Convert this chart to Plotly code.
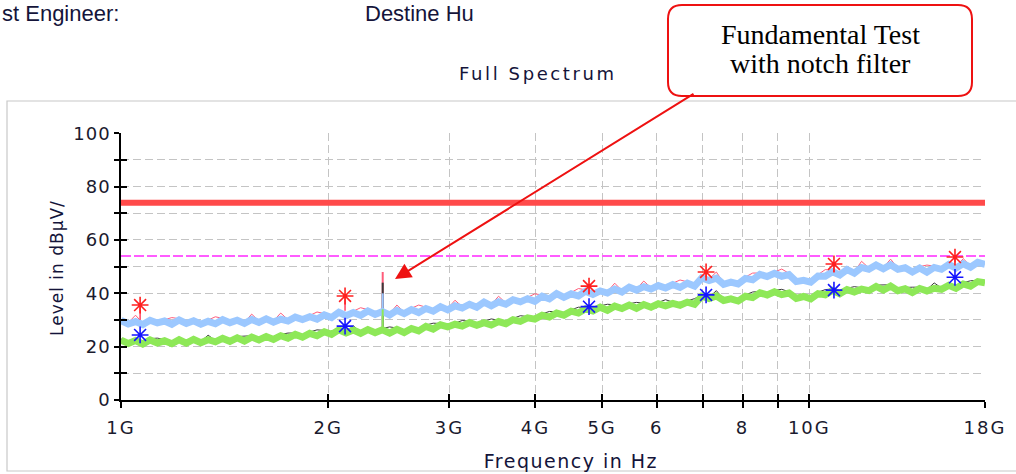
import numpy as np
import plotly.graph_objects as go

# ---------------- data ----------------
f_start, f_stop, n_pts = 1e9, 18e9, 120
freq = np.geomspace(f_start, f_stop, n_pts)

peak_band = [
    29.8, 28.5, 29.4, 28.3, 29.9, 28.9, 29.6, 28.4, 30.0, 28.7,
    29.7, 28.4, 29.5, 28.6, 30.1, 29.0, 29.9, 28.7, 30.2, 29.1,
    30.4, 29.2, 30.3, 29.6, 31.1, 30.2, 31.2, 30.3, 31.9, 30.9,
    32.9, 31.6, 32.8, 31.7, 33.4, 32.1, 33.2, 31.9, 33.6, 32.4,
    33.9, 32.8, 34.3, 33.3, 35.0, 33.8, 35.3, 34.5, 35.9, 34.8,
    36.7, 35.3, 36.8, 35.9, 37.6, 36.8, 38.0, 37.0, 38.9, 37.9,
    39.9, 38.5, 39.8, 39.0, 40.8, 39.6, 40.9, 40.1, 41.6, 40.5,
    42.3, 41.2, 42.5, 41.6, 42.9, 42.0, 43.3, 42.2, 43.8, 42.7,
    45.8, 44.8, 45.7, 43.4, 44.2, 43.5, 45.6, 45.1, 47.1, 46.3,
    47.5, 46.4, 47.0, 44.4, 44.9, 44.2, 46.5, 46.4, 48.1, 46.9,
    48.9, 47.6, 49.7, 49.0, 50.6, 49.2, 50.7, 49.0, 49.6, 48.0,
    49.5, 47.9, 49.7, 49.0, 50.8, 49.5, 51.1, 49.8, 51.6, 50.9,
]
peak_max = [
    30.3, 29.0, 31.8, 28.8, 30.4, 29.4, 30.1, 30.9, 30.5, 29.2,
    30.2, 28.9, 30.0, 31.2, 30.6, 29.5, 30.4, 29.2, 32.2, 29.6,
    30.9, 29.7, 32.6, 30.1, 31.6, 30.7, 31.7, 33.0, 32.4, 31.4,
    33.4, 32.1, 33.3, 34.6, 33.9, 32.6, 33.7, 32.4, 35.6, 32.9,
    34.4, 35.6, 34.8, 33.8, 35.5, 34.3, 37.4, 35.0, 36.4, 35.3,
    37.2, 35.8, 38.9, 36.4, 38.1, 37.3, 38.5, 39.8, 39.4, 38.4,
    40.4, 39.0, 40.3, 41.8, 41.3, 40.1, 41.4, 40.6, 43.8, 41.0,
    42.8, 41.7, 44.6, 42.1, 43.4, 42.5, 43.8, 45.0, 44.3, 43.2,
    46.3, 45.3, 48.0, 43.9, 44.7, 44.0, 46.1, 47.6, 47.6, 46.8,
    48.0, 49.1, 47.5, 44.9, 45.4, 44.7, 47.0, 48.9, 48.6, 47.4,
    49.4, 48.1, 52.0, 49.5, 51.1, 49.7, 52.8, 49.5, 50.1, 48.5,
    50.0, 50.6, 50.2, 49.5, 51.3, 50.0, 53.0, 50.3, 52.1, 51.4,
]
avg_band = [
    22.4, 21.2, 22.3, 21.0, 22.5, 21.4, 22.2, 21.1, 22.6, 21.3,
    22.7, 21.5, 22.6, 21.8, 23.1, 22.0, 23.3, 22.1, 23.6, 22.5,
    23.8, 22.7, 24.1, 23.2, 24.6, 23.6, 25.0, 24.1, 25.6, 24.6,
    26.3, 25.1, 26.2, 25.0, 26.4, 25.2, 26.3, 25.1, 26.5, 25.3,
    26.8, 25.9, 27.6, 26.6, 28.2, 27.4, 28.4, 27.7, 29.0, 28.0,
    29.0, 28.1, 29.4, 28.6, 30.1, 29.5, 30.8, 30.3, 31.8, 31.1,
    32.6, 31.8, 33.3, 32.6, 34.2, 33.4, 34.8, 33.6, 35.2, 34.3,
    35.6, 34.4, 35.8, 34.8, 36.1, 35.3, 36.2, 35.5, 36.7, 35.9,
    38.9, 38.0, 39.0, 37.3, 37.9, 37.1, 38.9, 38.4, 40.2, 39.4,
    40.6, 39.5, 40.1, 38.1, 38.8, 37.9, 39.9, 39.4, 41.1, 39.8,
    41.4, 40.5, 41.6, 41.0, 42.6, 41.2, 42.7, 41.0, 41.7, 40.3,
    41.8, 40.9, 41.9, 41.5, 43.0, 41.9, 43.5, 42.7, 44.4, 43.9,
]
avg_max = [
    22.9, 21.7, 22.8, 21.5, 23.0, 23.2, 22.7, 21.6, 23.1, 21.8,
    23.2, 22.0, 24.3, 22.3, 23.6, 22.5, 23.8, 24.0, 24.1, 23.0,
    24.3, 23.2, 24.6, 25.1, 25.1, 24.1, 25.5, 26.3, 26.1, 25.1,
    26.8, 25.6, 27.8, 25.5, 26.9, 25.7, 26.8, 27.4, 27.0, 25.8,
    27.3, 26.4, 28.1, 28.8, 28.7, 27.9, 28.9, 29.8, 29.5, 28.5,
    29.5, 30.4, 29.9, 29.1, 30.6, 31.6, 31.3, 30.8, 32.3, 33.2,
    33.1, 32.3, 33.8, 34.8, 34.7, 33.9, 35.3, 35.9, 35.7, 34.8,
    36.1, 36.6, 36.3, 35.3, 36.6, 37.6, 36.7, 36.0, 37.2, 38.0,
    39.4, 38.5, 41.0, 37.8, 38.4, 37.6, 39.4, 40.5, 40.7, 39.9,
    41.1, 41.5, 40.6, 38.6, 39.3, 38.4, 40.4, 41.4, 41.6, 40.3,
    41.9, 42.5, 42.1, 41.5, 43.1, 43.2, 43.2, 41.5, 42.2, 42.3,
    42.3, 41.4, 43.9, 42.0, 43.5, 42.4, 44.0, 44.7, 44.9, 44.4,
]

# fundamental spike (2.40 GHz) : [bottom, top] per detector
spike_freq = 2.40e9
spike_pk_max = [33.0, 48.0]
spike_avg_max = [27.0, 44.0]
spike_pk_band = [32.5, 40.0]
spike_avg_band = [26.0, 34.0]

# final measurement markers
mark_freq = [1.066e9, 2.116e9, 4.786e9, 7.08e9, 10.86e9, 16.28e9]
mark_peak = [35.6, 39.0, 42.7, 48.0, 51.0, 53.6]
mark_peak_stem = [5.5, 5.5, 3.0, 2.0, 3.0, 2.0]
mark_avg = [24.4, 27.7, 35.0, 39.4, 41.2, 46.0]

limit_peak = 74.0
limit_avg = 54.0

x_tick_vals = [1e9, 2e9, 3e9, 4e9, 5e9, 6e9, 7e9, 8e9, 9e9, 10e9, 18e9]
x_tick_text = ["1G", "2G", "3G", "4G", "5G", "6", "", "8", "", "10G", "18G"]
y_tick_vals = [0, 10, 20, 30, 40, 50, 60, 70, 80, 90, 100]
y_tick_text = ["0", "", "20", "", "40", "", "60", "", "80", "", "100"]

# ---------------- figure ----------------
W, H = 1016, 474
x0p, x1p = 121 / W, 985 / W
y0p, y1p = 1 - 400 / H, 1 - 133.3 / H
xr = [np.log10(f_start), np.log10(f_stop)]

fig = go.Figure()

fig.add_trace(go.Scatter(x=freq, y=peak_max, mode="lines",
                         line=dict(color="#ff5c7a", width=1)))
fig.add_trace(go.Scatter(x=[spike_freq, spike_freq], y=spike_pk_max, mode="lines",
                         line=dict(color="#ff5c7a", width=2)))
fig.add_trace(go.Scatter(x=freq, y=avg_max, mode="lines",
                         line=dict(color="#3a3a3a", width=1)))
fig.add_trace(go.Scatter(x=[spike_freq, spike_freq], y=spike_avg_max, mode="lines",
                         line=dict(color="#3a3a3a", width=2)))
fig.add_trace(go.Scatter(x=freq, y=peak_band, mode="lines",
                         line=dict(color="#9cc8ff", width=7)))
fig.add_trace(go.Scatter(x=[spike_freq, spike_freq], y=spike_pk_band, mode="lines",
                         line=dict(color="#9cc8ff", width=2)))
fig.add_trace(go.Scatter(x=freq, y=avg_band, mode="lines",
                         line=dict(color="#8ee858", width=7)))
fig.add_trace(go.Scatter(x=[spike_freq, spike_freq], y=spike_avg_band, mode="lines",
                         line=dict(color="#8ee858", width=2)))

# limits
fig.add_trace(go.Scatter(x=[f_start, f_stop], y=[limit_peak, limit_peak], mode="lines",
                         line=dict(color="#ff4a4a", width=6)))
fig.add_trace(go.Scatter(x=[f_start, f_stop], y=[limit_avg, limit_avg], mode="lines",
                         line=dict(color="#ff5cff", width=2, dash="10px,3px")))

# markers
fig.add_trace(go.Scatter(x=mark_freq, y=mark_peak, mode="markers",
                         marker=dict(symbol="asterisk-open", size=14, color="#ff2020",
                                     line=dict(color="#ff2020", width=1.6)),
                         error_y=dict(type="data", symmetric=False, array=[0] * 6,
                                      arrayminus=mark_peak_stem, color="#ff4060",
                                      thickness=1.5, width=0)))
fig.add_trace(go.Scatter(x=mark_freq, y=mark_avg, mode="markers",
                         marker=dict(symbol="asterisk-open", size=14, color="#1515ff",
                                     line=dict(color="#1515ff", width=1.6))))

# dummy trace for the overlay axes (inside tick halves)
fig.add_trace(go.Scatter(x=[f_start], y=[0], mode="markers", marker=dict(opacity=0),
                         xaxis="x2", yaxis="y2", hoverinfo="skip"))

tick_font = dict(family="DejaVu Sans", size=18, color="#1a1a2e")
common_x = dict(type="log", range=xr, domain=[x0p, x1p], tickvals=x_tick_vals,
                automargin=False)
common_y = dict(range=[0, 100], domain=[y0p, y1p], tickvals=y_tick_vals,
                automargin=False)

fig.update_layout(
    width=W, height=H, margin=dict(l=0, r=0, t=0, b=0, pad=0, autoexpand=False),
    paper_bgcolor="white", plot_bgcolor="white", showlegend=False,
    xaxis=dict(**common_x, ticktext=x_tick_text, ticks="outside", ticklen=6,
               tickwidth=1.5, tickcolor="black", showline=True, linecolor="black",
               linewidth=1.5, showgrid=True, gridcolor="#c4c4c4", griddash="8px,4px",
               gridwidth=1, zeroline=False, tickfont=tick_font, anchor="y",
               ticklabelstandoff=5),
    yaxis=dict(**common_y, ticktext=y_tick_text, ticks="outside", ticklen=5,
               tickwidth=1.5, tickcolor="black", showline=True, linecolor="black",
               linewidth=1.5, showgrid=True, gridcolor="#c4c4c4", griddash="8px,4px",
               gridwidth=1, zeroline=False, tickfont=tick_font, anchor="x"),
    xaxis2=dict(**common_x, overlaying="x", anchor="y2", ticks="inside", ticklen=6,
                tickwidth=1.5, tickcolor="black", showticklabels=False,
                showgrid=False, showline=False, zeroline=False),
    yaxis2=dict(**common_y, overlaying="y", anchor="x2", ticks="inside", ticklen=6,
                tickwidth=1.5, tickcolor="black", showticklabels=False,
                showgrid=False, showline=False, zeroline=False),
)


def px(xv):
    return xv / W


def py(yv):
    return 1 - yv / H


# frame and callout box
fig.add_shape(type="rect", xref="paper", yref="paper",
              x0=px(7), x1=1.01, y0=py(471), y1=py(101),
              line=dict(color="#c8c8c8", width=1.2), layer="below")
bx0, bx1, by0, by1, r = 668, 972, 5, 96, 14
seg = [("M", [(bx0 + r, by0)]), ("L", [(bx1 - r, by0)]),
       ("Q", [(bx1, by0), (bx1, by0 + r)]), ("L", [(bx1, by1 - r)]),
       ("Q", [(bx1, by1), (bx1 - r, by1)]), ("L", [(bx0 + r, by1)]),
       ("Q", [(bx0, by1), (bx0, by1 - r)]), ("L", [(bx0, by0 + r)]),
       ("Q", [(bx0, by0), (bx0 + r, by0)])]
path = " ".join(c + " " + " ".join(f"{px(a):.5f},{py(b):.5f}" for a, b in p)
                for c, p in seg) + " Z"
fig.add_shape(type="path", xref="paper", yref="paper", path=path,
              line=dict(color="#ee1111", width=2), fillcolor="white")

serif = dict(family="Liberation Serif", size=28, color="black")
fig.add_annotation(xref="paper", yref="paper", x=px(820), y=py(34),
                   xanchor="center", yanchor="middle", text="Fundamental Test",
                   showarrow=False, font=serif)
fig.add_annotation(xref="paper", yref="paper", x=px(820), y=py(63),
                   xanchor="center", yanchor="middle", text="with notch filter",
                   showarrow=False, font=serif)
fig.add_annotation(xref="paper", yref="paper", x=px(395), y=py(279),
                   axref="pixel", ayref="pixel", ax=300, ay=-186, text="",
                   showarrow=True, arrowhead=2, arrowsize=1.6, arrowwidth=2,
                   arrowcolor="#ee1111")

# texts
txt = "#14143a"
fig.add_annotation(xref="paper", yref="paper", x=0, y=py(13), xanchor="left",
                   yanchor="middle", text="st Engineer:", showarrow=False,
                   font=dict(family="Liberation Sans", size=22, color=txt))
fig.add_annotation(xref="paper", yref="paper", x=px(363), y=py(13), xanchor="left",
                   yanchor="middle", text="Destine Hu", showarrow=False,
                   font=dict(family="Liberation Sans", size=22, color=txt))
fig.add_annotation(xref="paper", yref="paper", x=px(538), y=py(73), xanchor="center",
                   yanchor="middle", text="Full Spectrum", showarrow=False,
                   font=dict(family="DejaVu Sans", size=18, color=txt))
fig.add_annotation(xref="paper", yref="paper", x=px(571), y=py(461), xanchor="center",
                   yanchor="middle", text="Frequency in Hz", showarrow=False,
                   font=dict(family="DejaVu Sans", size=19, color=txt))
fig.add_annotation(xref="paper", yref="paper", x=px(57), y=py(268), xanchor="center",
                   yanchor="middle", text="Level in dBµV/", showarrow=False,
                   textangle=-90,
                   font=dict(family="DejaVu Sans", size=17, color=txt))

spacing_js = """
(function(){
  function ls(){
    var gd = document.querySelector('.plotly-graph-div');
    if(!gd) return;
    gd.querySelectorAll('.xtick text').forEach(function(t){t.style.letterSpacing='2px';});
    gd.querySelectorAll('.ytick text').forEach(function(t){t.style.letterSpacing='1px';});
    gd.querySelectorAll('.annotation-text').forEach(function(t){
      var s = t.textContent;
      if (s === 'Full Spectrum') t.style.letterSpacing = '2.6px';
      else if (s === 'Frequency in Hz') t.style.letterSpacing = '1.5px';
      else if (s.indexOf('Level') === 0) t.style.letterSpacing = '1px';
    });
  }
  ls();
  setTimeout(ls, 30);
  var gd = document.querySelector('.plotly-graph-div');
  if (gd && gd.on) gd.on('plotly_afterplot', ls);
})();
"""

fig.write_html(
    "out.html",
    config={"responsive": False, "displayModeBar": False},
    post_script="document.body.style.margin='0';document.body.style.overflow='hidden';"
    + spacing_js,
)
